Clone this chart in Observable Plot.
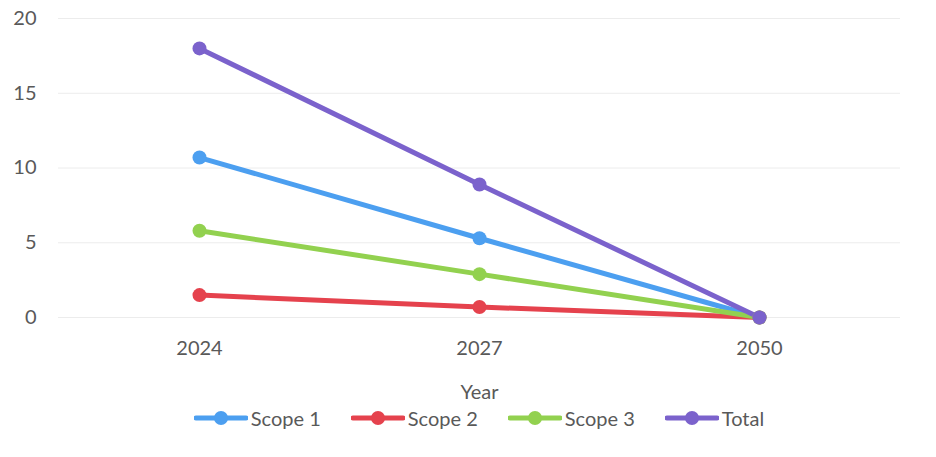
<!DOCTYPE html>
<html>
<head>
<meta charset="utf-8">
<script src="https://cdn.jsdelivr.net/npm/d3@7"></script>
<script src="https://cdn.jsdelivr.net/npm/@observablehq/plot@0.6"></script>
<style>
  html, body { margin: 0; padding: 0; background: #fff; }
  #chart { width: 936px; }
  .legend { display: flex; justify-content: center; align-items: center; margin-left: 58px; width: 842px; height: 26px;
    font-family: Lato, "Open Sans", sans-serif; font-size: 20px; color: #595959; }
  .legend .item { display: flex; align-items: center; margin: 0 15px; }
  .legend svg { margin-right: 3px; }
</style>
</head>
<body>
<div id="chart"></div>
<script>
const years = ["2024", "2027", "2050"];
const seriesNames = ["Scope 1", "Scope 2", "Scope 3", "Total"];
const scope1 = [10.7, 5.3, 0];
const scope2 = [1.5, 0.7, 0];
const scope3 = [5.8, 2.9, 0];
const total = [18.0, 8.9, 0];
const yTicks = [0, 5, 10, 15, 20];
const colors = ["#4c9ff0", "#e5424d", "#92d14f", "#7b62cc"];

const valuesBySeries = [scope1, scope2, scope3, total];
const data = [];
seriesNames.forEach((s, i) => {
  years.forEach((y, j) => data.push({series: s, year: y, value: valuesBySeries[i][j]}));
});

const plot = Plot.plot({
  width: 936,
  height: 405,
  marginLeft: 58,
  marginRight: 36,
  marginTop: 18,
  marginBottom: 88,
  style: {fontFamily: "Lato, 'Open Sans', sans-serif", fontSize: "20px", color: "#595959", background: "#fff"},
  x: {type: "point", domain: years, padding: 0.5, label: "Year"},
  y: {domain: [0, 20], ticks: yTicks},
  color: {domain: seriesNames, range: colors},
  marks: [
    Plot.gridY(yTicks, {stroke: "#ececec", strokeOpacity: 1, strokeWidth: 1}),
    Plot.axisY({ticks: yTicks, tickSize: 0, tickPadding: 22, label: null, fontSize: 20}),
    Plot.axisX({tickSize: 0, tickPadding: 23, label: "Year", labelAnchor: "center", labelOffset: 81, fontSize: 20}),
    Plot.line(data, {x: "year", y: "value", z: "series", stroke: "series", strokeWidth: 5, strokeLinecap: "round"}),
    Plot.dot(data, {x: "year", y: "value", fill: "series", r: 7, stroke: null})
  ]
});
document.getElementById("chart").appendChild(plot);

const legend = document.createElement("div");
legend.className = "legend";
seriesNames.forEach((s, i) => {
  const item = document.createElement("div");
  item.className = "item";
  item.innerHTML = `<svg width="54" height="16"><line x1="2" y1="8" x2="52" y2="8" stroke="${colors[i]}" stroke-width="5" stroke-linecap="round"/><circle cx="27" cy="8" r="7" fill="${colors[i]}"/></svg><span>${s}</span>`;
  legend.appendChild(item);
});
document.getElementById("chart").appendChild(legend);
</script>
</body>
</html>
